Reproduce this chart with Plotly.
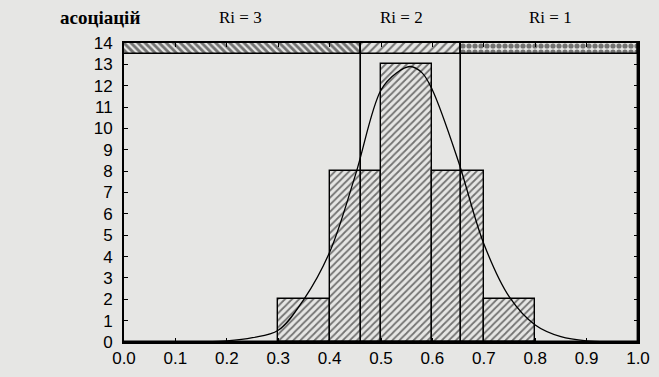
import plotly.graph_objects as go

# Histogram data
bin_left = [0.3, 0.4, 0.5, 0.6, 0.7]
bin_right = [0.4, 0.5, 0.6, 0.7, 0.8]
counts = [2, 8, 13, 8, 2]

# Fitted curve
curve_x = [0.0, 0.1, 0.15, 0.2, 0.25, 0.3, 0.35, 0.4, 0.45, 0.5, 0.53, 0.557, 0.58,
           0.6, 0.65, 0.7, 0.75, 0.8, 0.85, 0.9, 0.95, 1.0]
curve_y = [0.0, 0.0, 0.01, 0.05, 0.2, 0.55, 2.0, 4.2, 7.8, 11.8, 12.6, 12.9, 12.6,
           11.8, 8.5, 4.6, 2.1, 0.8, 0.25, 0.05, 0.01, 0.0]

# Zones
zone_edges = [0.0, 0.462, 0.656, 1.0]
zone_labels = ["Ri = 3", "Ri = 2", "Ri = 1"]
zone_label_x = [0.226, 0.54, 0.829]
zone_patterns = ["\\", "/", "."]
band_bottom = 13.5
y_max = 14

y_ticks = list(range(0, 15))
x_ticks = [0.0, 0.1, 0.2, 0.3, 0.4, 0.5, 0.6, 0.7, 0.8, 0.9, 1.0]

BG = "#e6e6e4"
fig = go.Figure()

zl = zone_edges[:-1]
zr = zone_edges[1:]
zc = [(a + b) / 2 for a, b in zip(zl, zr)]
zw = [b - a for a, b in zip(zl, zr)]

# zone frames (vertical boundaries)
fig.add_trace(go.Bar(
    x=zc, y=[y_max] * len(zc), width=zw, base=[0] * len(zc),
    marker=dict(color="rgba(0,0,0,0)", line=dict(color="black", width=1.4)),
    hoverinfo="skip", showlegend=False))

# histogram bars
bc = [(a + b) / 2 for a, b in zip(bin_left, bin_right)]
bw = [b - a for a, b in zip(bin_left, bin_right)]
fig.add_trace(go.Bar(
    x=bc, y=counts, width=bw,
    marker=dict(color="rgba(0,0,0,0)", line=dict(color="black", width=1.4),
                pattern=dict(shape="/", fgcolor="black", bgcolor="rgba(0,0,0,0)",
                             size=5, solidity=0.35)),
    hoverinfo="skip", showlegend=False))

# top band with patterns per zone
band_sizes = [5, 6, 6]
band_solid = [0.55, 0.35, 0.6]
for i in range(len(zc)):
    fig.add_trace(go.Bar(
        x=[zc[i]], y=[y_max - band_bottom], width=[zw[i]], base=[band_bottom],
        marker=dict(color="rgba(0,0,0,0)", line=dict(color="black", width=1.6),
                    pattern=dict(shape=zone_patterns[i], fgcolor="black",
                                 bgcolor="rgba(0,0,0,0)", size=band_sizes[i],
                                 solidity=band_solid[i])),
        hoverinfo="skip", showlegend=False))

# curve
fig.add_trace(go.Scatter(x=curve_x, y=curve_y, mode="lines",
                         line=dict(color="black", width=1.3, shape="spline"),
                         hoverinfo="skip", showlegend=False))

for lab, c in zip(zone_labels, zone_label_x):
    fig.add_annotation(x=c, xref="x", y=1, yref="paper", yshift=26, text=lab,
                       showarrow=False, xanchor="center", yanchor="middle",
                       font=dict(family="Liberation Serif", size=17, color="black"))

fig.add_annotation(x=-0.046, xref="paper", y=1, yref="paper", yshift=26,
                   text="<b>асоціацій</b>", showarrow=False,
                   xanchor="center", yanchor="middle",
                   font=dict(family="Liberation Serif", size=19, color="black"))

fig.update_layout(
    width=659, height=377,
    margin=dict(l=124, r=9, t=43, b=25),
    paper_bgcolor=BG, plot_bgcolor=BG,
    barmode="overlay", bargap=0,
    font=dict(family="Liberation Sans", size=17, color="black"),
)
fig.update_xaxes(range=[0, 1], tickvals=x_ticks, ticktext=[f"{v:.1f}" for v in x_ticks],
                 showgrid=False, zeroline=False, showline=True, linecolor="black",
                 linewidth=2, mirror="ticks", ticks="inside", ticklen=4,
                 tickcolor="black", tickfont=dict(size=17), ticklabeloverflow="allow")
fig.update_yaxes(range=[0, y_max], tickvals=y_ticks, showgrid=False, zeroline=False,
                 showline=True, linecolor="black", linewidth=2, mirror="ticks",
                 ticks="inside", ticklen=4, tickcolor="black", tickfont=dict(size=17),
                 ticklabelstandoff=6, ticklabeloverflow="allow")

fig.write_html("out.html", config={"displayModeBar": False},
               post_script="document.body.style.margin='0';"
                           "document.body.style.background='" + BG + "';"
                           "document.body.style.overflow='hidden';")
